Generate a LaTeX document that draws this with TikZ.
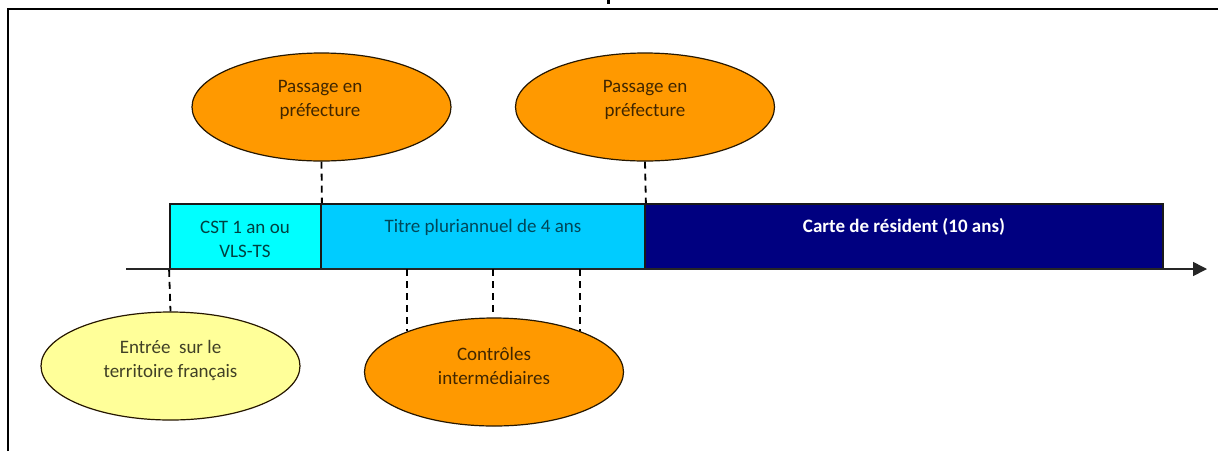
\documentclass[tikz,border=0pt]{standalone}
\usepackage{fontspec}
\setmainfont{Carlito}
\usetikzlibrary{shapes.geometric,arrows.meta}
\definecolor{cOrange}{HTML}{FF9900}
\definecolor{cYellow}{HTML}{FFFF99}
\definecolor{cCyan}{HTML}{00FFFF}
\definecolor{cSky}{HTML}{00CCFF}
\definecolor{cNavy}{HTML}{000080}
\tikzset{
  bubble/.style={ellipse,draw=black!85!cOrange,line width=1.2pt,minimum width=259pt,minimum height=108pt,inner sep=0pt},
  band/.style={rectangle,draw=black!90,line width=1.8pt,minimum height=65pt,inner sep=0pt},
  bandtext/.style={align=center,font=\fontsize{19}{24}\selectfont,inner sep=0pt},
  link/.style={draw=black,line width=1.8pt,dash pattern=on 7pt off 5pt},
  frameline/.style={draw=black,line width=2.3pt},
}
\begin{document}
\begin{tikzpicture}[x=1pt,y=-1pt]
\useasboundingbox (0,0) rectangle (1218,451);
\fill[white] (0,0) rectangle (1218,451);
% frame and cropped title remnant
\coordinate (fBL) at (8,451);
\coordinate (fTL) at (8,9);
\coordinate (fTR) at (1218,9);
\draw[frameline] (fBL) -- (fTL) -- (fTR);
\fill[black] (606.5,0) rectangle (610,3.5);
% bands
\node[band,fill=cCyan,minimum width=151pt] (rA) at (245.5,236.5) {};
\node[band,fill=cSky,minimum width=324pt] (rB) at (483,236.5) {};
\node[band,fill=cNavy,minimum width=518pt] (rC) at (904,236.5) {};
% axis
\coordinate (axS) at (126,269);
\coordinate (axE) at (1207,269);
\draw[draw=black!85,line width=1.6pt,-{Triangle[length=14pt,width=14pt]}] (axS) -- (axE);
% bubbles
\node[bubble,fill=cOrange] (eA) at (321.5,107) {};
\node[bubble,fill=cOrange] (eB) at (645,107) {};
\node[bubble,fill=cYellow] (eC) at (170.5,366) {};
\node[bubble,fill=cOrange] (eD) at (494,372) {};
% connectors
\draw[link] (eA.south) -- (rA.north east);
\draw[link] (eB.south) -- (rB.north east);
\draw[link] (rA.south west) -- (eC.north);
\coordinate (tL) at (407,269);
\coordinate (tM) at (493,269);
\coordinate (tR) at (580,269);
\coordinate (bL) at (407,331);
\coordinate (bM) at (493,313);
\coordinate (bR) at (580,331);
\draw[link] (tL) -- (bL);
\draw[link] (tM) -- (bM);
\draw[link] (tR) -- (bR);
% labels
\node[bandtext,text=black!75!cOrange] (lA) at (320,100) {Passage en\\préfecture};
\node[bandtext,text=black!75!cOrange] (lB) at (645,100) {Passage en\\préfecture};
\node[bandtext,text=black!75!cYellow] (lC) at (170.5,360) {Entrée\ \ sur le\\territoire français};
\node[bandtext,text=black!75!cOrange] (lD) at (494,366) {Contrôles\\intermédiaires};
\node[bandtext,text=black!75!cCyan] (lE) at (245,239) {CST 1 an ou\\VLS-TS};
\node[bandtext,text=black!65!cSky] (lF) at (483,227) {Titre pluriannuel de 4 ans};
\node[bandtext,text=white,font=\fontsize{19}{24}\selectfont\bfseries] (lG) at (904,227) {Carte de résident (10 ans)};
\end{tikzpicture}
\end{document}
